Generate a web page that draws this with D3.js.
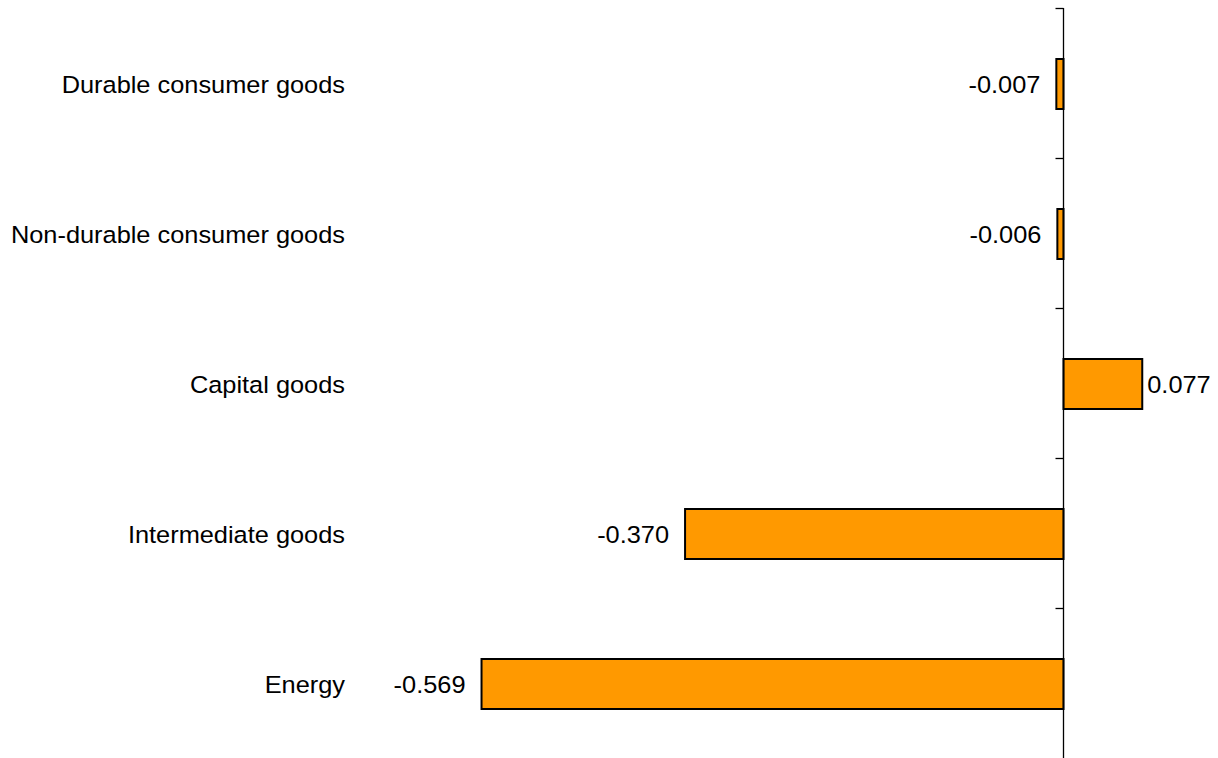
<!DOCTYPE html>
<html>
<head>
<meta charset="utf-8">
<script src="https://cdn.jsdelivr.net/npm/d3@7"></script>
<style>
html,body{margin:0;padding:0;background:#fff;}
svg{display:block;}
text{font-family:"Liberation Sans", Arial, sans-serif;fill:#000;}
</style>
</head>
<body>
<svg id="chart" width="1218" height="758"></svg>
<script>
const categories = ["Durable consumer goods","Non-durable consumer goods","Capital goods","Intermediate goods","Energy"];
const values = [-0.007,-0.006,0.077,-0.370,-0.569];
const valueLabels = ["-0.007","-0.006","0.077","-0.370","-0.569"];

const svg = d3.select("#chart");
const zeroX = 1063.5;
const pxPerUnit = 1022.8;
const x = d3.scaleLinear().domain([-0.6, 0.15]).range([zeroX - 0.6*pxPerUnit, zeroX + 0.15*pxPerUnit]);
const y = d3.scaleBand().domain(categories).range([9, 759]).paddingInner(2/3).paddingOuter(1/3);

const data = categories.map((c,i)=>({c, v: values[i], l: valueLabels[i]}));
const FS = 23.5, SX = 1.08;

// bars
svg.append("g").selectAll("rect").data(data).join("rect")
  .attr("x", d => Math.min(x(0), x(d.v)))
  .attr("y", d => y(d.c))
  .attr("width", d => Math.abs(x(d.v) - x(0)))
  .attr("height", y.bandwidth())
  .attr("fill", "#FF9900")
  .attr("stroke", "#000")
  .attr("stroke-width", 2);

// axis line + ticks at band boundaries
const step = y.step();
const boundaries = d3.range(categories.length).map(i => 8 + i * step);
const ax = svg.append("g");
ax.append("line").attr("x1", x(0)).attr("x2", x(0)).attr("y1", 8).attr("y2", 758)
  .attr("stroke", "#000").attr("stroke-width", 1.3);
ax.selectAll("line.tick").data(boundaries).join("line").attr("class","tick")
  .attr("x1", x(0) - 8).attr("x2", x(0)).attr("y1", d => d + 0.5).attr("y2", d => d + 0.5)
  .attr("stroke", "#000").attr("stroke-width", 1.3);

// category labels
svg.append("g").selectAll("text").data(data).join("text")
  .attr("transform", d => `translate(345,${y(d.c) + y.bandwidth()/2 + 1}) scale(${SX},1)`)
  .attr("dy", "0.35em")
  .attr("text-anchor", "end")
  .attr("font-size", FS)
  .text(d => d.c);

// value labels
svg.append("g").selectAll("text").data(data).join("text")
  .attr("transform", d => `translate(${d.v < 0 ? x(d.v) - 16 : x(d.v) + 5},${y(d.c) + y.bandwidth()/2 + 1}) scale(${SX},1)`)
  .attr("dy", "0.35em")
  .attr("text-anchor", d => d.v < 0 ? "end" : "start")
  .attr("font-size", FS)
  .text(d => d.l);
</script>
</body>
</html>
